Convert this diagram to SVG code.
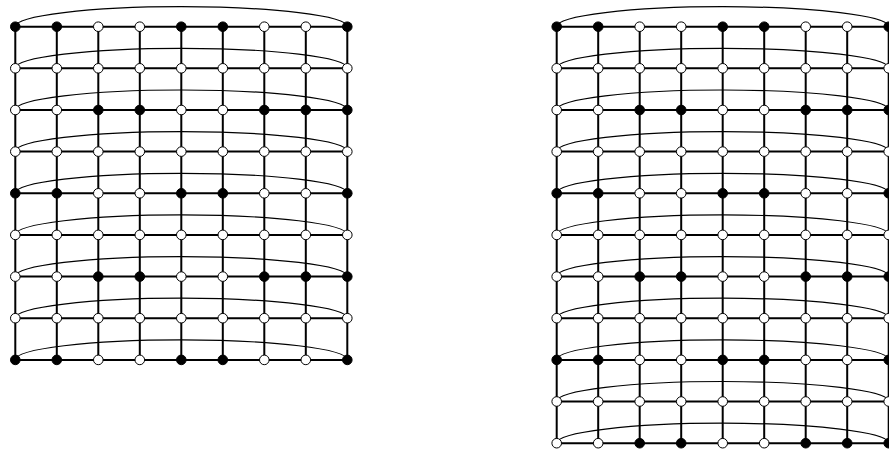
<svg xmlns="http://www.w3.org/2000/svg" width="889" height="450" viewBox="0 0 889 450">
<style>
.grid{fill:none;stroke:#000;stroke-width:2}
.arc{fill:none;stroke:#000;stroke-width:1.2}
.b{fill:#000;stroke:#000;stroke-width:1}
.w{fill:#fff;stroke:#000;stroke-width:1}
</style>
<rect width="889" height="450" fill="#fff"/>
<g id="connectors">
<path class="grid" d="M15.3 26.7H347.3M15.3 68.3H347.3M15.3 110H347.3M15.3 151.6H347.3M15.3 193.3H347.3M15.3 234.9H347.3M15.3 276.6H347.3M15.3 318.2H347.3M15.3 359.9H347.3M15.3 26.7V359.9M56.8 26.7V359.9M98.3 26.7V359.9M139.8 26.7V359.9M181.3 26.7V359.9M222.8 26.7V359.9M264.3 26.7V359.9M305.8 26.7V359.9M347.3 26.7V359.9"/>
<path class="arc" d="M15.3 26.7A166 20 0 0 1 347.3 26.7M15.3 68.3A166 20 0 0 1 347.3 68.3M15.3 110A166 20 0 0 1 347.3 110M15.3 151.6A166 20 0 0 1 347.3 151.6M15.3 193.3A166 20 0 0 1 347.3 193.3M15.3 234.9A166 20 0 0 1 347.3 234.9M15.3 276.6A166 20 0 0 1 347.3 276.6M15.3 318.2A166 20 0 0 1 347.3 318.2M15.3 359.9A166 20 0 0 1 347.3 359.9"/>
<path class="grid" d="M556.7 26.7H888.7M556.7 68.3H888.7M556.7 110H888.7M556.7 151.6H888.7M556.7 193.3H888.7M556.7 234.9H888.7M556.7 276.6H888.7M556.7 318.2H888.7M556.7 359.9H888.7M556.7 401.5H888.7M556.7 443.2H888.7M556.7 26.7V443.2M598.2 26.7V443.2M639.7 26.7V443.2M681.2 26.7V443.2M722.7 26.7V443.2M764.2 26.7V443.2M805.7 26.7V443.2M847.2 26.7V443.2M888.7 26.7V443.2"/>
<path class="arc" d="M556.7 26.7A166 20 0 0 1 888.7 26.7M556.7 68.3A166 20 0 0 1 888.7 68.3M556.7 110A166 20 0 0 1 888.7 110M556.7 151.6A166 20 0 0 1 888.7 151.6M556.7 193.3A166 20 0 0 1 888.7 193.3M556.7 234.9A166 20 0 0 1 888.7 234.9M556.7 276.6A166 20 0 0 1 888.7 276.6M556.7 318.2A166 20 0 0 1 888.7 318.2M556.7 359.9A166 20 0 0 1 888.7 359.9M556.7 401.5A166 20 0 0 1 888.7 401.5M556.7 443.2A166 20 0 0 1 888.7 443.2"/>
</g>
<g id="left-nodes">
<g id="L0-0"><circle class="b" cx="15.3" cy="26.7" r="4.8"/></g>
<g id="L0-1"><circle class="b" cx="56.8" cy="26.7" r="4.8"/></g>
<g id="L0-2"><circle class="w" cx="98.3" cy="26.7" r="4.8"/></g>
<g id="L0-3"><circle class="w" cx="139.8" cy="26.7" r="4.8"/></g>
<g id="L0-4"><circle class="b" cx="181.3" cy="26.7" r="4.8"/></g>
<g id="L0-5"><circle class="b" cx="222.8" cy="26.7" r="4.8"/></g>
<g id="L0-6"><circle class="w" cx="264.3" cy="26.7" r="4.8"/></g>
<g id="L0-7"><circle class="w" cx="305.8" cy="26.7" r="4.8"/></g>
<g id="L0-8"><circle class="b" cx="347.3" cy="26.7" r="4.8"/></g>
<g id="L1-0"><circle class="w" cx="15.3" cy="68.3" r="4.8"/></g>
<g id="L1-1"><circle class="w" cx="56.8" cy="68.3" r="4.8"/></g>
<g id="L1-2"><circle class="w" cx="98.3" cy="68.3" r="4.8"/></g>
<g id="L1-3"><circle class="w" cx="139.8" cy="68.3" r="4.8"/></g>
<g id="L1-4"><circle class="w" cx="181.3" cy="68.3" r="4.8"/></g>
<g id="L1-5"><circle class="w" cx="222.8" cy="68.3" r="4.8"/></g>
<g id="L1-6"><circle class="w" cx="264.3" cy="68.3" r="4.8"/></g>
<g id="L1-7"><circle class="w" cx="305.8" cy="68.3" r="4.8"/></g>
<g id="L1-8"><circle class="w" cx="347.3" cy="68.3" r="4.8"/></g>
<g id="L2-0"><circle class="w" cx="15.3" cy="110" r="4.8"/></g>
<g id="L2-1"><circle class="w" cx="56.8" cy="110" r="4.8"/></g>
<g id="L2-2"><circle class="b" cx="98.3" cy="110" r="4.8"/></g>
<g id="L2-3"><circle class="b" cx="139.8" cy="110" r="4.8"/></g>
<g id="L2-4"><circle class="w" cx="181.3" cy="110" r="4.8"/></g>
<g id="L2-5"><circle class="w" cx="222.8" cy="110" r="4.8"/></g>
<g id="L2-6"><circle class="b" cx="264.3" cy="110" r="4.8"/></g>
<g id="L2-7"><circle class="b" cx="305.8" cy="110" r="4.8"/></g>
<g id="L2-8"><circle class="b" cx="347.3" cy="110" r="4.8"/></g>
<g id="L3-0"><circle class="w" cx="15.3" cy="151.6" r="4.8"/></g>
<g id="L3-1"><circle class="w" cx="56.8" cy="151.6" r="4.8"/></g>
<g id="L3-2"><circle class="w" cx="98.3" cy="151.6" r="4.8"/></g>
<g id="L3-3"><circle class="w" cx="139.8" cy="151.6" r="4.8"/></g>
<g id="L3-4"><circle class="w" cx="181.3" cy="151.6" r="4.8"/></g>
<g id="L3-5"><circle class="w" cx="222.8" cy="151.6" r="4.8"/></g>
<g id="L3-6"><circle class="w" cx="264.3" cy="151.6" r="4.8"/></g>
<g id="L3-7"><circle class="w" cx="305.8" cy="151.6" r="4.8"/></g>
<g id="L3-8"><circle class="w" cx="347.3" cy="151.6" r="4.8"/></g>
<g id="L4-0"><circle class="b" cx="15.3" cy="193.3" r="4.8"/></g>
<g id="L4-1"><circle class="b" cx="56.8" cy="193.3" r="4.8"/></g>
<g id="L4-2"><circle class="w" cx="98.3" cy="193.3" r="4.8"/></g>
<g id="L4-3"><circle class="w" cx="139.8" cy="193.3" r="4.8"/></g>
<g id="L4-4"><circle class="b" cx="181.3" cy="193.3" r="4.8"/></g>
<g id="L4-5"><circle class="b" cx="222.8" cy="193.3" r="4.8"/></g>
<g id="L4-6"><circle class="w" cx="264.3" cy="193.3" r="4.8"/></g>
<g id="L4-7"><circle class="w" cx="305.8" cy="193.3" r="4.8"/></g>
<g id="L4-8"><circle class="b" cx="347.3" cy="193.3" r="4.8"/></g>
<g id="L5-0"><circle class="w" cx="15.3" cy="234.9" r="4.8"/></g>
<g id="L5-1"><circle class="w" cx="56.8" cy="234.9" r="4.8"/></g>
<g id="L5-2"><circle class="w" cx="98.3" cy="234.9" r="4.8"/></g>
<g id="L5-3"><circle class="w" cx="139.8" cy="234.9" r="4.8"/></g>
<g id="L5-4"><circle class="w" cx="181.3" cy="234.9" r="4.8"/></g>
<g id="L5-5"><circle class="w" cx="222.8" cy="234.9" r="4.8"/></g>
<g id="L5-6"><circle class="w" cx="264.3" cy="234.9" r="4.8"/></g>
<g id="L5-7"><circle class="w" cx="305.8" cy="234.9" r="4.8"/></g>
<g id="L5-8"><circle class="w" cx="347.3" cy="234.9" r="4.8"/></g>
<g id="L6-0"><circle class="w" cx="15.3" cy="276.6" r="4.8"/></g>
<g id="L6-1"><circle class="w" cx="56.8" cy="276.6" r="4.8"/></g>
<g id="L6-2"><circle class="b" cx="98.3" cy="276.6" r="4.8"/></g>
<g id="L6-3"><circle class="b" cx="139.8" cy="276.6" r="4.8"/></g>
<g id="L6-4"><circle class="w" cx="181.3" cy="276.6" r="4.8"/></g>
<g id="L6-5"><circle class="w" cx="222.8" cy="276.6" r="4.8"/></g>
<g id="L6-6"><circle class="b" cx="264.3" cy="276.6" r="4.8"/></g>
<g id="L6-7"><circle class="b" cx="305.8" cy="276.6" r="4.8"/></g>
<g id="L6-8"><circle class="b" cx="347.3" cy="276.6" r="4.8"/></g>
<g id="L7-0"><circle class="w" cx="15.3" cy="318.2" r="4.8"/></g>
<g id="L7-1"><circle class="w" cx="56.8" cy="318.2" r="4.8"/></g>
<g id="L7-2"><circle class="w" cx="98.3" cy="318.2" r="4.8"/></g>
<g id="L7-3"><circle class="w" cx="139.8" cy="318.2" r="4.8"/></g>
<g id="L7-4"><circle class="w" cx="181.3" cy="318.2" r="4.8"/></g>
<g id="L7-5"><circle class="w" cx="222.8" cy="318.2" r="4.8"/></g>
<g id="L7-6"><circle class="w" cx="264.3" cy="318.2" r="4.8"/></g>
<g id="L7-7"><circle class="w" cx="305.8" cy="318.2" r="4.8"/></g>
<g id="L7-8"><circle class="w" cx="347.3" cy="318.2" r="4.8"/></g>
<g id="L8-0"><circle class="b" cx="15.3" cy="359.9" r="4.8"/></g>
<g id="L8-1"><circle class="b" cx="56.8" cy="359.9" r="4.8"/></g>
<g id="L8-2"><circle class="w" cx="98.3" cy="359.9" r="4.8"/></g>
<g id="L8-3"><circle class="w" cx="139.8" cy="359.9" r="4.8"/></g>
<g id="L8-4"><circle class="b" cx="181.3" cy="359.9" r="4.8"/></g>
<g id="L8-5"><circle class="b" cx="222.8" cy="359.9" r="4.8"/></g>
<g id="L8-6"><circle class="w" cx="264.3" cy="359.9" r="4.8"/></g>
<g id="L8-7"><circle class="w" cx="305.8" cy="359.9" r="4.8"/></g>
<g id="L8-8"><circle class="b" cx="347.3" cy="359.9" r="4.8"/></g>
</g>
<g id="right-nodes">
<g id="R0-0"><circle class="b" cx="556.7" cy="26.7" r="4.8"/></g>
<g id="R0-1"><circle class="b" cx="598.2" cy="26.7" r="4.8"/></g>
<g id="R0-2"><circle class="w" cx="639.7" cy="26.7" r="4.8"/></g>
<g id="R0-3"><circle class="w" cx="681.2" cy="26.7" r="4.8"/></g>
<g id="R0-4"><circle class="b" cx="722.7" cy="26.7" r="4.8"/></g>
<g id="R0-5"><circle class="b" cx="764.2" cy="26.7" r="4.8"/></g>
<g id="R0-6"><circle class="w" cx="805.7" cy="26.7" r="4.8"/></g>
<g id="R0-7"><circle class="w" cx="847.2" cy="26.7" r="4.8"/></g>
<g id="R0-8"><circle class="b" cx="888.7" cy="26.7" r="4.8"/></g>
<g id="R1-0"><circle class="w" cx="556.7" cy="68.3" r="4.8"/></g>
<g id="R1-1"><circle class="w" cx="598.2" cy="68.3" r="4.8"/></g>
<g id="R1-2"><circle class="w" cx="639.7" cy="68.3" r="4.8"/></g>
<g id="R1-3"><circle class="w" cx="681.2" cy="68.3" r="4.8"/></g>
<g id="R1-4"><circle class="w" cx="722.7" cy="68.3" r="4.8"/></g>
<g id="R1-5"><circle class="w" cx="764.2" cy="68.3" r="4.8"/></g>
<g id="R1-6"><circle class="w" cx="805.7" cy="68.3" r="4.8"/></g>
<g id="R1-7"><circle class="w" cx="847.2" cy="68.3" r="4.8"/></g>
<g id="R1-8"><circle class="w" cx="888.7" cy="68.3" r="4.8"/></g>
<g id="R2-0"><circle class="w" cx="556.7" cy="110" r="4.8"/></g>
<g id="R2-1"><circle class="w" cx="598.2" cy="110" r="4.8"/></g>
<g id="R2-2"><circle class="b" cx="639.7" cy="110" r="4.8"/></g>
<g id="R2-3"><circle class="b" cx="681.2" cy="110" r="4.8"/></g>
<g id="R2-4"><circle class="w" cx="722.7" cy="110" r="4.8"/></g>
<g id="R2-5"><circle class="w" cx="764.2" cy="110" r="4.8"/></g>
<g id="R2-6"><circle class="b" cx="805.7" cy="110" r="4.8"/></g>
<g id="R2-7"><circle class="b" cx="847.2" cy="110" r="4.8"/></g>
<g id="R2-8"><circle class="b" cx="888.7" cy="110" r="4.8"/></g>
<g id="R3-0"><circle class="w" cx="556.7" cy="151.6" r="4.8"/></g>
<g id="R3-1"><circle class="w" cx="598.2" cy="151.6" r="4.8"/></g>
<g id="R3-2"><circle class="w" cx="639.7" cy="151.6" r="4.8"/></g>
<g id="R3-3"><circle class="w" cx="681.2" cy="151.6" r="4.8"/></g>
<g id="R3-4"><circle class="w" cx="722.7" cy="151.6" r="4.8"/></g>
<g id="R3-5"><circle class="w" cx="764.2" cy="151.6" r="4.8"/></g>
<g id="R3-6"><circle class="w" cx="805.7" cy="151.6" r="4.8"/></g>
<g id="R3-7"><circle class="w" cx="847.2" cy="151.6" r="4.8"/></g>
<g id="R3-8"><circle class="w" cx="888.7" cy="151.6" r="4.8"/></g>
<g id="R4-0"><circle class="b" cx="556.7" cy="193.3" r="4.8"/></g>
<g id="R4-1"><circle class="b" cx="598.2" cy="193.3" r="4.8"/></g>
<g id="R4-2"><circle class="w" cx="639.7" cy="193.3" r="4.8"/></g>
<g id="R4-3"><circle class="w" cx="681.2" cy="193.3" r="4.8"/></g>
<g id="R4-4"><circle class="b" cx="722.7" cy="193.3" r="4.8"/></g>
<g id="R4-5"><circle class="b" cx="764.2" cy="193.3" r="4.8"/></g>
<g id="R4-6"><circle class="w" cx="805.7" cy="193.3" r="4.8"/></g>
<g id="R4-7"><circle class="w" cx="847.2" cy="193.3" r="4.8"/></g>
<g id="R4-8"><circle class="b" cx="888.7" cy="193.3" r="4.8"/></g>
<g id="R5-0"><circle class="w" cx="556.7" cy="234.9" r="4.8"/></g>
<g id="R5-1"><circle class="w" cx="598.2" cy="234.9" r="4.8"/></g>
<g id="R5-2"><circle class="w" cx="639.7" cy="234.9" r="4.8"/></g>
<g id="R5-3"><circle class="w" cx="681.2" cy="234.9" r="4.8"/></g>
<g id="R5-4"><circle class="w" cx="722.7" cy="234.9" r="4.8"/></g>
<g id="R5-5"><circle class="w" cx="764.2" cy="234.9" r="4.8"/></g>
<g id="R5-6"><circle class="w" cx="805.7" cy="234.9" r="4.8"/></g>
<g id="R5-7"><circle class="w" cx="847.2" cy="234.9" r="4.8"/></g>
<g id="R5-8"><circle class="w" cx="888.7" cy="234.9" r="4.8"/></g>
<g id="R6-0"><circle class="w" cx="556.7" cy="276.6" r="4.8"/></g>
<g id="R6-1"><circle class="w" cx="598.2" cy="276.6" r="4.8"/></g>
<g id="R6-2"><circle class="b" cx="639.7" cy="276.6" r="4.8"/></g>
<g id="R6-3"><circle class="b" cx="681.2" cy="276.6" r="4.8"/></g>
<g id="R6-4"><circle class="w" cx="722.7" cy="276.6" r="4.8"/></g>
<g id="R6-5"><circle class="w" cx="764.2" cy="276.6" r="4.8"/></g>
<g id="R6-6"><circle class="b" cx="805.7" cy="276.6" r="4.8"/></g>
<g id="R6-7"><circle class="b" cx="847.2" cy="276.6" r="4.8"/></g>
<g id="R6-8"><circle class="b" cx="888.7" cy="276.6" r="4.8"/></g>
<g id="R7-0"><circle class="w" cx="556.7" cy="318.2" r="4.8"/></g>
<g id="R7-1"><circle class="w" cx="598.2" cy="318.2" r="4.8"/></g>
<g id="R7-2"><circle class="w" cx="639.7" cy="318.2" r="4.8"/></g>
<g id="R7-3"><circle class="w" cx="681.2" cy="318.2" r="4.8"/></g>
<g id="R7-4"><circle class="w" cx="722.7" cy="318.2" r="4.8"/></g>
<g id="R7-5"><circle class="w" cx="764.2" cy="318.2" r="4.8"/></g>
<g id="R7-6"><circle class="w" cx="805.7" cy="318.2" r="4.8"/></g>
<g id="R7-7"><circle class="w" cx="847.2" cy="318.2" r="4.8"/></g>
<g id="R7-8"><circle class="w" cx="888.7" cy="318.2" r="4.8"/></g>
<g id="R8-0"><circle class="b" cx="556.7" cy="359.9" r="4.8"/></g>
<g id="R8-1"><circle class="b" cx="598.2" cy="359.9" r="4.8"/></g>
<g id="R8-2"><circle class="w" cx="639.7" cy="359.9" r="4.8"/></g>
<g id="R8-3"><circle class="w" cx="681.2" cy="359.9" r="4.8"/></g>
<g id="R8-4"><circle class="b" cx="722.7" cy="359.9" r="4.8"/></g>
<g id="R8-5"><circle class="b" cx="764.2" cy="359.9" r="4.8"/></g>
<g id="R8-6"><circle class="w" cx="805.7" cy="359.9" r="4.8"/></g>
<g id="R8-7"><circle class="w" cx="847.2" cy="359.9" r="4.8"/></g>
<g id="R8-8"><circle class="b" cx="888.7" cy="359.9" r="4.8"/></g>
<g id="R9-0"><circle class="w" cx="556.7" cy="401.5" r="4.8"/></g>
<g id="R9-1"><circle class="w" cx="598.2" cy="401.5" r="4.8"/></g>
<g id="R9-2"><circle class="w" cx="639.7" cy="401.5" r="4.8"/></g>
<g id="R9-3"><circle class="w" cx="681.2" cy="401.5" r="4.8"/></g>
<g id="R9-4"><circle class="w" cx="722.7" cy="401.5" r="4.8"/></g>
<g id="R9-5"><circle class="w" cx="764.2" cy="401.5" r="4.8"/></g>
<g id="R9-6"><circle class="w" cx="805.7" cy="401.5" r="4.8"/></g>
<g id="R9-7"><circle class="w" cx="847.2" cy="401.5" r="4.8"/></g>
<g id="R9-8"><circle class="w" cx="888.7" cy="401.5" r="4.8"/></g>
<g id="R10-0"><circle class="w" cx="556.7" cy="443.2" r="4.8"/></g>
<g id="R10-1"><circle class="w" cx="598.2" cy="443.2" r="4.8"/></g>
<g id="R10-2"><circle class="b" cx="639.7" cy="443.2" r="4.8"/></g>
<g id="R10-3"><circle class="b" cx="681.2" cy="443.2" r="4.8"/></g>
<g id="R10-4"><circle class="w" cx="722.7" cy="443.2" r="4.8"/></g>
<g id="R10-5"><circle class="w" cx="764.2" cy="443.2" r="4.8"/></g>
<g id="R10-6"><circle class="b" cx="805.7" cy="443.2" r="4.8"/></g>
<g id="R10-7"><circle class="b" cx="847.2" cy="443.2" r="4.8"/></g>
<g id="R10-8"><circle class="b" cx="888.7" cy="443.2" r="4.8"/></g>
</g>
</svg>
